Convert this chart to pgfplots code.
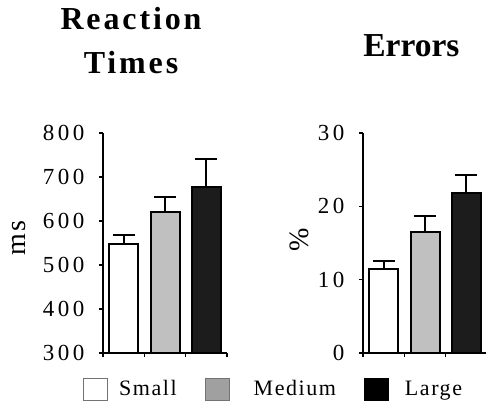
\documentclass[border=0pt]{standalone}
\usepackage{fontspec}
\setmainfont{Liberation Serif}
\newfontfamily\tickfont[LetterSpace=15]{Liberation Serif}
\newfontfamily\legfont[LetterSpace=7]{Liberation Serif}
\newfontfamily\titlefont[LetterSpace=9]{Liberation Serif}
\newfontfamily\labfont[LetterSpace=10]{Liberation Serif}
\usepackage{pgfplots}
\pgfplotsset{compat=1.18}
\definecolor{medbar}{HTML}{C0C0C0}
\definecolor{largebar}{HTML}{1C1C1C}
\definecolor{medleg}{HTML}{A0A0A0}
\pgfplotsset{
  common/.style={
    scale only axis,
    xmin=0, xmax=3,
    xtick={0,1,2,3}, xticklabels={},
    axis lines=left,
    axis line style={-, line width=2pt, black},
    tick style={line width=1.6pt, black},
    tick align=outside,
    major tick length=4pt,
    ybar, bar width=29pt, bar shift=0pt,
    yticklabel style={font=\tickfont\fontsize{23}{26}\selectfont, anchor=east, inner sep=0pt, xshift=-14.5pt},
    ylabel style={font=\labfont\fontsize{28}{30}\selectfont, anchor=center},
    error bars/error bar style={line width=2pt, black},
    error bars/error mark options={black, line width=2pt, mark size=11pt, rotate=90},
  },
  barS/.style={draw=black, line width=2pt, fill=white, forget plot, error bars/.cd, y dir=plus, y explicit},
  barM/.style={draw=black, line width=2pt, fill=medbar, forget plot, error bars/.cd, y dir=plus, y explicit},
  barL/.style={draw=black, line width=2pt, fill=largebar, forget plot, error bars/.cd, y dir=plus, y explicit},
}
\begin{document}
\begin{tikzpicture}
\useasboundingbox (0,0) rectangle (486pt,407pt);
\begin{axis}[common,
  at={(103pt,54pt)}, anchor=south west,
  width=124pt, height=220pt,
  ymin=300, ymax=800,
  ytick={300,400,500,600,700,800},
  yticklabels={300,400,500,600,700,800},
  ylabel={ms},
  ylabel style={at={(-0.677,0.523)}},
  title={Reaction\\Times},
  title style={font=\titlefont\bfseries\fontsize{32}{44}\selectfont, align=center, at={(0.226,1.245)}, anchor=base},
  legend columns=3,
  legend style={at={(-0.161,-0.164)}, anchor=west, draw=none, fill=none, inner sep=0pt,
    font=\legfont\fontsize{22}{26}\selectfont,
    nodes={inner sep=0pt},
    /tikz/every odd column/.append style={column sep=11pt},
    /tikz/every even column/.append style={column sep=28pt},
    cells={anchor=west}},
]
\addplot[barS] coordinates {(0.5,548) +- (0,20)};
\addplot[barM] coordinates {(1.5,620) +- (0,34)};
\addplot[barL] coordinates {(2.5,678) +- (0,63)};
\addlegendimage{legend image code/.code={\draw[line width=1pt, draw=black!55, fill=white] (0pt,-11pt) rectangle (24pt,11pt);}}
\addlegendentry{Small}
\addlegendimage{legend image code/.code={\draw[line width=1pt, draw=black!55, fill=medleg] (0pt,-11pt) rectangle (24pt,11pt);}}
\addlegendentry{\hspace*{13pt}Medium}
\addlegendimage{legend image code/.code={\draw[line width=1pt, draw=black, fill=black] (0pt,-11pt) rectangle (24pt,11pt);}}
\addlegendentry{\hspace*{5pt}Large}
\end{axis}
\begin{axis}[common,
  at={(363pt,54pt)}, anchor=south west,
  width=124pt, height=220pt,
  ymin=0, ymax=30,
  ytick={0,10,20,30},
  yticklabels={0,10,20,30},
  ylabel={\%},
  ylabel style={at={(-0.512,0.514)}},
  title={Errors},
  title style={font=\bfseries\fontsize{33.5}{40}\selectfont, at={(0.39,1.3227)}, anchor=base},
]
\addplot[barS] coordinates {(0.5,11.4) +- (0,1.1)};
\addplot[barM] coordinates {(1.5,16.5) +- (0,2.2)};
\addplot[barL] coordinates {(2.5,21.8) +- (0,2.5)};
\end{axis}
\end{tikzpicture}
\end{document}
